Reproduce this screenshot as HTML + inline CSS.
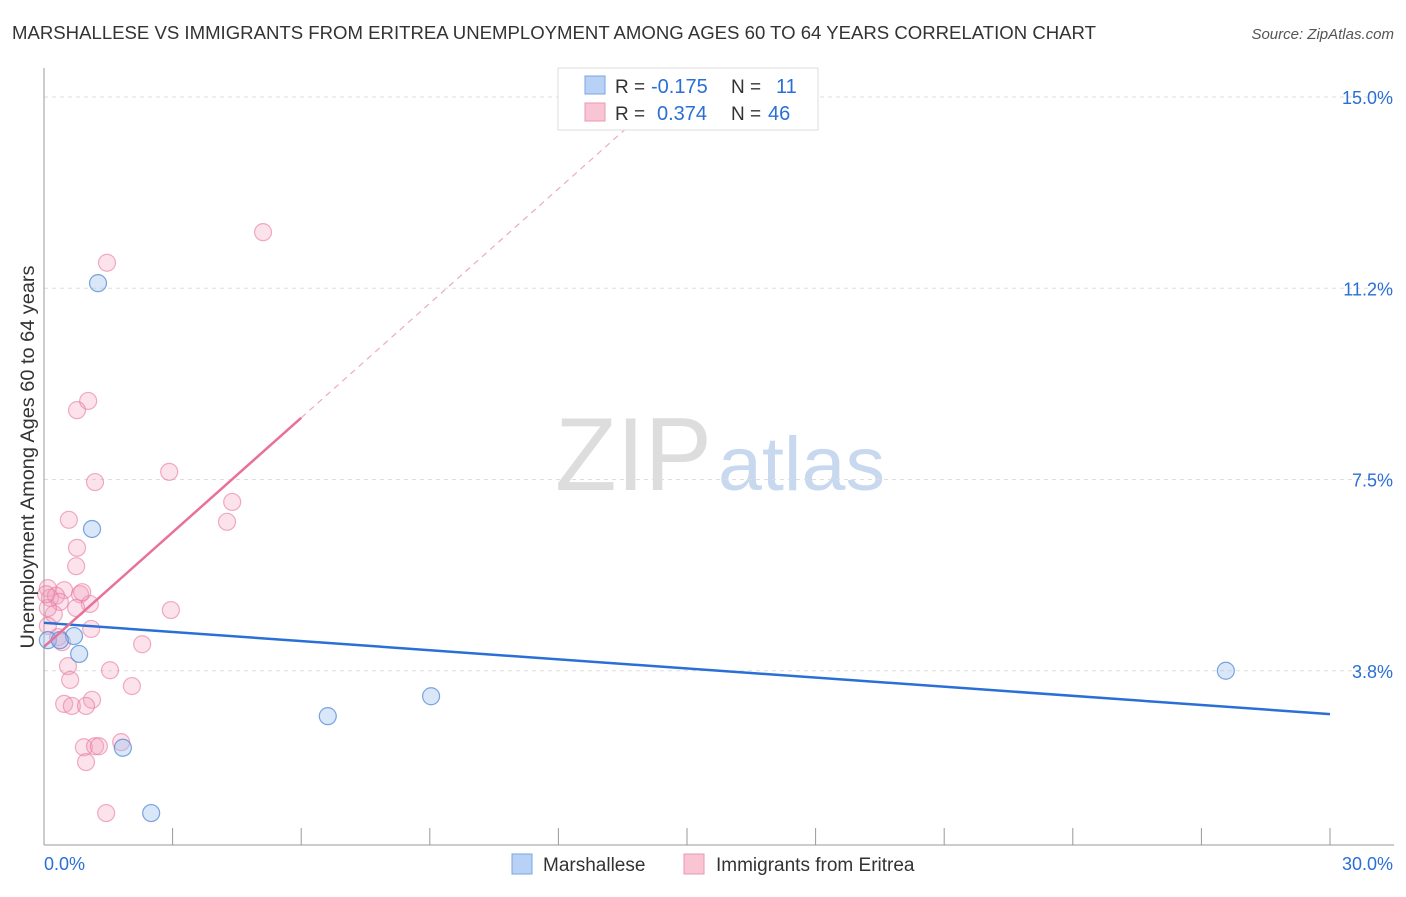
<!DOCTYPE html>
<html><head><meta charset="utf-8">
<style>
body{margin:0;background:#fff;font-family:"Liberation Sans",sans-serif;}
svg text{font-family:"Liberation Sans",sans-serif;}
</style></head>
<body>
<svg width="1406" height="892">
<text x="12" y="39" font-size="18" fill="#333" textLength="1084" lengthAdjust="spacingAndGlyphs">MARSHALLESE VS IMMIGRANTS FROM ERITREA UNEMPLOYMENT AMONG AGES 60 TO 64 YEARS CORRELATION CHART</text>
<text x="1394" y="39" font-size="15" fill="#555" font-style="italic" text-anchor="end">Source: ZipAtlas.com</text>
<text x="555" y="490" font-size="104" fill="#ddd" textLength="157" lengthAdjust="spacingAndGlyphs" font-family="Liberation Serif">ZIP</text>
<text x="718" y="490" font-size="76" fill="#c8d8ee" textLength="167" lengthAdjust="spacingAndGlyphs">atlas</text>
<g id="grid"></g>
<g id="axes"></g>
<g id="marks"></g>
<text transform="translate(34,457) rotate(-90)" font-size="19" fill="#333" text-anchor="middle" textLength="383" lengthAdjust="spacingAndGlyphs">Unemployment Among Ages 60 to 64 years</text>
<g>
<rect x="558" y="68" width="260" height="62" fill="#fff" stroke="#ddd"/>
<rect x="585" y="76" width="20" height="18" fill="#b8d2f5" stroke="#7aa6e0"/>
<rect x="585" y="103" width="20" height="18" fill="#f9c4d4" stroke="#eb97b3"/>
<text x="615" y="93" font-size="19" fill="#333">R =</text>
<text x="651" y="93" font-size="20" fill="#2a6fd6">-0.175</text>
<text x="731" y="93" font-size="19" fill="#333">N =</text>
<text x="776" y="93" font-size="20" fill="#2a6fd6">11</text>
<text x="615" y="120" font-size="19" fill="#333">R =</text>
<text x="657" y="120" font-size="20" fill="#2a6fd6">0.374</text>
<text x="731" y="120" font-size="19" fill="#333">N =</text>
<text x="768" y="120" font-size="20" fill="#2a6fd6">46</text>
</g>
<g>
<rect x="512" y="854" width="20" height="20" fill="#b8d2f5" stroke="#7aa6e0"/>
<text x="543" y="871" font-size="19" fill="#333">Marshallese</text>
<rect x="684" y="854" width="20" height="20" fill="#f9c4d4" stroke="#eb97b3"/>
<text x="716" y="871" font-size="19" fill="#333">Immigrants from Eritrea</text>
</g>
</svg>
<script>
const yTicks=[3.75,7.5,11.25,15];
const yTickLabels=["3.8%","7.5%","11.2%","15.0%"];
const xTickVals=[0,3,6,9,12,15,18,21,24,27,30];
const blueX=[1.26,1.12,0.70,0.82,0.09,0.37,1.84,2.50,6.62,9.03,27.57];
const blueY=[11.35,6.53,4.43,4.08,4.35,4.35,2.24,0.96,2.86,3.25,3.75];
const pinkX=[5.11,1.47,1.03,0.77,2.92,1.19,4.39,4.27,0.58,0.77,0.75,0.09,0.47,0.84,0.14,0.28,0.37,1.07,0.75,0.89,2.96,0.23,0.09,1.10,0.33,0.42,2.29,0.56,1.54,0.61,2.05,1.12,0.47,0.65,0.98,1.80,0.93,1.19,1.28,0.98,1.45,0.09,0.05];
const pinkY=[12.35,11.75,9.04,8.86,7.65,7.45,7.06,6.67,6.71,6.16,5.80,5.37,5.33,5.25,5.18,5.22,5.10,5.06,4.98,5.29,4.94,4.86,4.63,4.57,4.41,4.31,4.27,3.84,3.76,3.57,3.45,3.18,3.10,3.06,3.06,2.35,2.25,2.27,2.27,1.96,0.96,4.98,5.25];
const blueLine=[4.69,2.90];
const pinkLine=[4.22,8.71];
const X=v=>44+v*(1330-44)/30;
const Y=v=>862-v*(862-97)/15;
const NS="http://www.w3.org/2000/svg";
function mk(t,a,p){const e=document.createElementNS(NS,t);for(const k in a)e.setAttribute(k,a[k]);p.appendChild(e);return e;}
const grid=document.getElementById('grid'),axes=document.getElementById('axes'),marks=document.getElementById('marks');
yTicks.forEach((v,i)=>{
 const l=mk('line',{x1:44,x2:1394,y1:Y(v),y2:Y(v),stroke:'#ddd','stroke-dasharray':'4,4'},grid);
 
 
 const t=mk('text',{x:1393,y:Y(v)+7,'font-size':18,fill:'#2a6fd6','text-anchor':'end'},axes);
 t.textContent=yTickLabels[i];
 
 
});
const ax=mk('line',{x1:44,x2:44,y1:68,y2:845,stroke:'#999'},axes);


const bx=mk('line',{x1:44,x2:1394,y1:845,y2:845,stroke:'#999'},axes);


xTickVals.forEach(v=>{
 const t=mk('line',{x1:X(v),x2:X(v),y1:828,y2:845,stroke:'#999'},axes);
 
 
});
const xl0=mk('text',{x:44,y:870,'font-size':18,fill:'#2a6fd6'},axes);xl0.textContent='0.0%';


const xl1=mk('text',{x:1393,y:870,'font-size':18,fill:'#2a6fd6','text-anchor':'end'},axes);xl1.textContent='30.0%';


pinkX.forEach((x,i)=>{
 const c=mk('circle',{cx:X(x),cy:Y(pinkY[i]),r:8.5,fill:'rgba(243,160,188,0.3)',stroke:'rgba(232,120,160,0.6)','stroke-width':1.2},marks);
 
 
});
blueX.forEach((x,i)=>{
 const c=mk('circle',{cx:X(x),cy:Y(blueY[i]),r:8.5,fill:'rgba(160,196,240,0.4)',stroke:'rgba(70,130,210,0.7)','stroke-width':1.2},marks);
 
 
});
const bl=mk('line',{x1:X(0),y1:Y(blueLine[0]),x2:X(30),y2:Y(blueLine[1]),stroke:'#2a6fd6','stroke-width':2.5},marks);


const slope=(pinkLine[1]-pinkLine[0])/6;
const pl=mk('line',{x1:X(0),y1:Y(pinkLine[0]),x2:X(6),y2:Y(pinkLine[1]),stroke:'#e8709a','stroke-width':2.5},marks);


const xe=(15.5-pinkLine[0])/slope;
const pd=mk('line',{x1:X(6),y1:Y(pinkLine[1]),x2:X(xe),y2:Y(15.5),stroke:'#eeaac0','stroke-width':1.2,'stroke-dasharray':'6,5'},marks);


</script>
</body></html>
